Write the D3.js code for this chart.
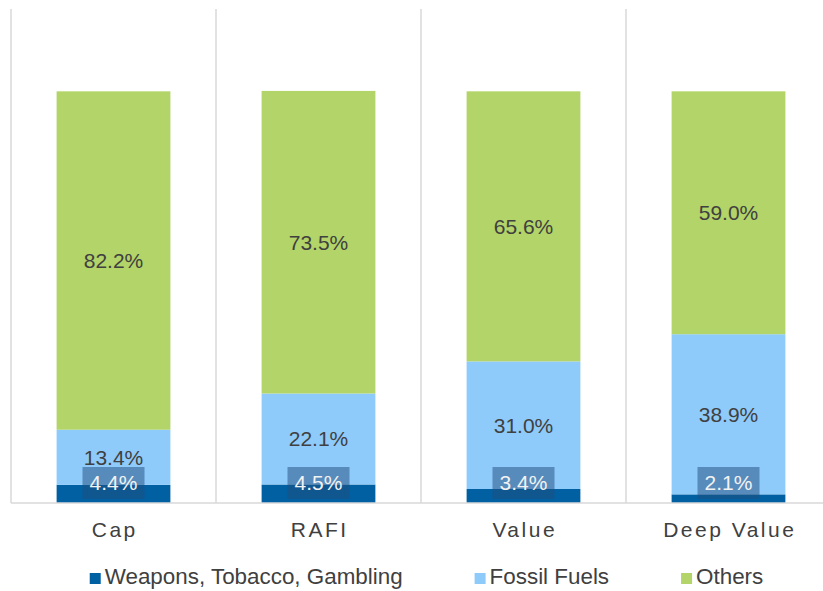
<!DOCTYPE html>
<html>
<head>
<meta charset="utf-8">
<script src="https://cdn.jsdelivr.net/npm/d3@7"></script>
<style>
  body { margin: 0; background: #fff; }
  svg { display: block; font-family: "Liberation Sans", Arial, sans-serif; }
</style>
</head>
<body>
<svg class="chart" width="823" height="591"></svg>
<script>
// Data
const categories = ['Cap', 'RAFI', 'Value', 'Deep Value'];
const seriesNames = ['Weapons, Tobacco, Gambling', 'Fossil Fuels', 'Others'];
const weapons = [4.4, 4.5, 3.4, 2.1];
const fossil = [13.4, 22.1, 31.0, 38.9];
const others = [82.2, 73.5, 65.6, 59.0];
const colors = ['#0060a2', '#8ecbfb', '#b2d468'];

const svg = d3.select('.chart');

// Scales
const x = d3.scaleBand().domain(categories).range([11, 831])
  .paddingInner(0.445).paddingOuter(0.2225);
const y = d3.scaleLinear().domain([0, 120]).range([503, 9]);

// Build stacked rows
const rows = categories.map((c, i) => ({ cat: c, w: weapons[i], f: fossil[i], o: others[i] }));
const stack = d3.stack().keys(['w', 'f', 'o'])(rows);

// Vertical separators between categories
const grid = svg.append('g');
d3.range(categories.length + 1).forEach(i => {
  const gx = x.range()[0] + i * x.step();
  grid.append('line')
    .attr('x1', gx).attr('x2', gx)
    .attr('y1', y(120)).attr('y2', y(0))
    .attr('stroke', '#d9d9d9').attr('stroke-width', 1.5);
});

// Bars
const layers = svg.append('g').selectAll('g')
  .data(stack).enter().append('g')
  .attr('fill', (d, i) => colors[i]);

layers.selectAll('rect')
  .data(d => d).enter().append('rect')
  .attr('x', d => x(d.data.cat))
  .attr('width', x.bandwidth())
  .attr('y', d => y(d[1]))
  .attr('height', d => y(d[0]) - y(d[1]));

// Baseline
svg.append('line')
  .attr('x1', x.range()[0]).attr('x2', 823)
  .attr('y1', y(0)).attr('y2', y(0))
  .attr('stroke', '#d9d9d9').attr('stroke-width', 1.5);

// Labels for the two large segments
[1, 2].forEach(k => {
  svg.append('g').selectAll('text')
    .data(stack[k]).enter().append('text')
    .attr('x', d => x(d.data.cat) + x.bandwidth() / 2)
    .attr('y', d => y((d[0] + d[1]) / 2))
    .attr('dy', '0.35em')
    .attr('text-anchor', 'middle')
    .attr('font-size', 21)
    .attr('fill', '#404040')
    .text(d => (d[1] - d[0]).toFixed(1) + '%');
});

// Boxed labels for the small bottom segment
const small = svg.append('g').selectAll('g')
  .data(stack[0]).enter().append('g')
  .attr('transform', d => `translate(${x(d.data.cat) + x.bandwidth() / 2},${y(0) - 20})`);
small.append('rect')
  .attr('x', -31).attr('y', -16).attr('width', 62).attr('height', 32)
  .attr('fill', '#204c7b').attr('fill-opacity', 0.5);
small.append('text')
  .attr('dy', '0.35em')
  .attr('text-anchor', 'middle')
  .attr('font-size', 21)
  .attr('fill', '#f2f2f2')
  .text(d => (d[1] - d[0]).toFixed(1) + '%');

// Category axis labels
svg.append('g').selectAll('text')
  .data(categories).enter().append('text')
  .attr('x', d => x(d) + x.bandwidth() / 2 + 1.25)
  .attr('y', 537)
  .attr('text-anchor', 'middle')
  .attr('font-size', 21)
  .attr('letter-spacing', 2.5)
  .attr('fill', '#404040')
  .text(d => d);

// Legend
const legend = svg.append('g');
const items = legend.selectAll('g').data(seriesNames).enter().append('g');
items.append('rect')
  .attr('y', 573).attr('width', 11).attr('height', 11)
  .attr('fill', (d, i) => colors[i]);
items.append('text')
  .attr('x', 15).attr('y', 584)
  .attr('font-size', 22.4)
  .attr('fill', '#404040')
  .text(d => d);
const widths = [];
items.each(function () {
  widths.push(15 + this.querySelector('text').getComputedTextLength());
});
const total = d3.sum(widths) + 72 * (widths.length - 1);
let lx = 426.5 - total / 2;
items.attr('transform', (d, i) => {
  const t = `translate(${lx},0)`;
  lx += widths[i] + 72;
  return t;
});
</script>
</body>
</html>
